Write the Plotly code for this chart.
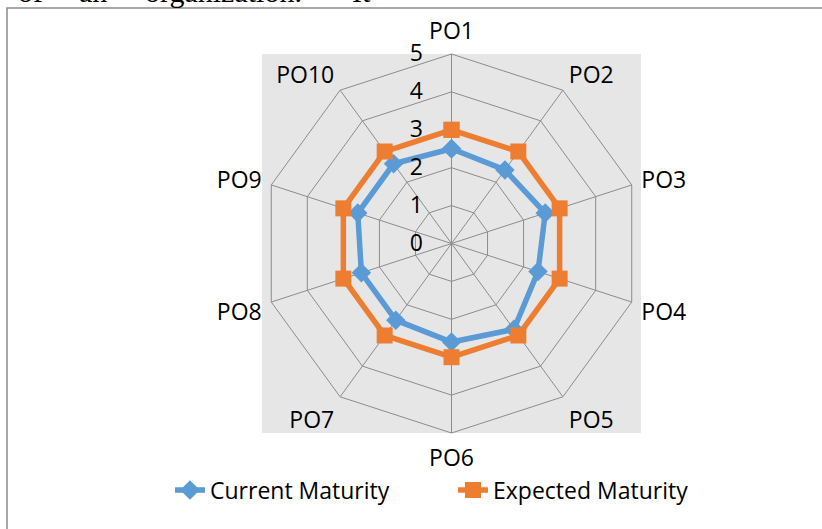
import plotly.graph_objects as go

categories = ["PO1", "PO2", "PO3", "PO4", "PO5", "PO6", "PO7", "PO8", "PO9", "PO10"]
current_maturity = [2.5, 2.4, 2.6, 2.4, 2.8, 2.6, 2.5, 2.5, 2.6, 2.6]
expected_maturity = [3, 3, 3, 3, 3, 3, 3, 3, 3, 3]
radial_ticks = [0, 1, 2, 3, 4, 5]

W, H = 822, 529
FONT = "Open Sans"
FS = 23
GRID = "#8c8c8c"


def px(x):
    return x / W


def py(y):
    return 1 - y / H


def closed(v):
    return list(v) + [v[0]]


fig = go.Figure()
fig.add_trace(go.Scatterpolar(
    r=closed(current_maturity), theta=closed(categories), name="Current Maturity",
    mode="lines+markers",
    line=dict(color="#5B9BD5", width=5.5),
    marker=dict(symbol="diamond", size=15, color="#5B9BD5"),
))
fig.add_trace(go.Scatterpolar(
    r=closed(expected_maturity), theta=closed(categories), name="Expected Maturity",
    mode="lines+markers",
    line=dict(color="#ED7D31", width=5.5),
    marker=dict(symbol="square", size=16, color="#ED7D31"),
))

shapes = [
    # gray plot area
    dict(type="rect", xref="paper", yref="paper", x0=px(262), x1=px(641), y0=py(433), y1=py(54),
         fillcolor="#E7E6E6", line=dict(width=0), layer="below"),
    # chart border
    dict(type="rect", xref="paper", yref="paper", x0=px(7), x1=px(840), y0=py(560), y1=py(8),
         fillcolor="rgba(0,0,0,0)", line=dict(color="#8a8a8a", width=1.5), layer="below"),
]

annotations = []
for word, x in [("of", 16), ("an", 77), ("organization.", 143), ("It", 350)]:
    annotations.append(dict(text=word, xref="paper", yref="paper", x=px(x), y=py(10),
                            xanchor="left", yanchor="bottom", showarrow=False,
                            font=dict(family="Liberation Serif", size=30, color="black")))

fig.update_layout(
    width=W, height=H,
    margin=dict(l=0, r=0, t=0, b=0),
    paper_bgcolor="white",
    font=dict(family=FONT, size=FS, color="black"),
    shapes=shapes,
    annotations=annotations,
    polar=dict(
        domain=dict(x=[px(262), px(641)], y=[py(433), py(54)]),
        bgcolor="rgba(0,0,0,0)",
        gridshape="linear",
        angularaxis=dict(
            rotation=90, direction="clockwise",
            showline=True, linecolor=GRID, linewidth=1,
            gridcolor=GRID, gridwidth=1,
            ticks="outside", ticklen=5, tickcolor="rgba(0,0,0,0)",
            tickfont=dict(family=FONT, size=FS, color="black"),
        ),
        radialaxis=dict(
            range=[0, 5], tickvals=radial_ticks, ticktext=[str(t) for t in radial_ticks],
            angle=90, side="counterclockwise", tickangle=90,
            showline=False, gridcolor=GRID, gridwidth=1,
            ticks="outside", ticklen=20, tickcolor="rgba(0,0,0,0)",
            tickfont=dict(family=FONT, size=FS, color="black"),
        ),
    ),
    showlegend=True,
    legend=dict(orientation="h", x=px(170), xanchor="left", y=py(490), yanchor="middle",
                entrywidth=238, entrywidthmode="pixels",
                font=dict(family=FONT, size=FS, color="black"), bgcolor="rgba(0,0,0,0)"),
)

fig.write_html("out.html", config={"displayModeBar": False},
               post_script="document.body.style.margin='0px';")
